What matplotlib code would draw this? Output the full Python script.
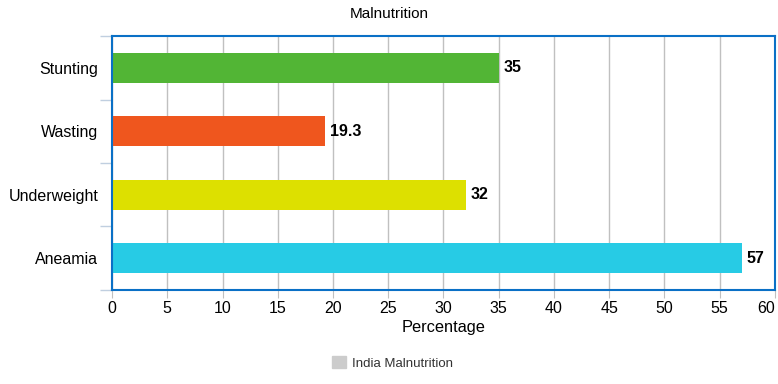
import matplotlib.pyplot as plt
from matplotlib.patches import Patch

plt.rcParams['font.family'] = ['Liberation Sans', 'DejaVu Sans']

# data
categories = ['Stunting', 'Wasting', 'Underweight', 'Aneamia']
values = [35, 19.3, 32, 57]
labels = ['35', '19.3', '32', '57']
colors = ['#52b535', '#ef561e', '#dde000', '#27cbe5']

fig = plt.figure(figsize=(7.78, 3.84), dpi=100)
ax = fig.add_axes([0.144, 0.245, 0.852, 0.661])

ypos = list(range(len(categories)))
ax.barh(ypos, values, height=0.47, color=colors, zorder=2)
ax.set_ylim(len(categories) - 0.5, -0.5)
ax.set_xlim(0, 60)

for y, v, t in zip(ypos, values, labels):
    ax.text(v + 0.45, y, t, va='center', ha='left', fontsize=11.5,
            fontweight='bold', color='black')

ax.set_yticks(ypos)
ax.set_yticklabels(categories, fontsize=11.5)
ax.tick_params(axis='y', which='major', length=0, pad=10)
ax.set_yticks([i - 0.5 for i in range(len(categories) + 1)], minor=True)
ax.tick_params(axis='y', which='minor', length=9, color='#c0cfe0', width=1)

ax.set_xticks(range(0, 61, 5))
ax.tick_params(axis='x', length=6, color='#c0c0c0', labelsize=11.5, pad=2)
ax.get_xticklabels()[-1].set_horizontalalignment('right')
ax.grid(axis='x', color='#c0c0c0', linewidth=1, zorder=0)
ax.set_axisbelow(True)

for s in ax.spines.values():
    s.set_color('#0a70c6')
    s.set_linewidth(1.5)

ax.set_xlabel('Percentage', fontsize=11.8, labelpad=3)
fig.suptitle('Malnutrition', fontsize=11, y=0.982)

fig.legend(handles=[Patch(color='#cccccc', label='India Malnutrition')],
           loc='center', bbox_to_anchor=(0.505, 0.055), frameon=False,
           fontsize=9.5, handlelength=1.0, handleheight=1.0, handletextpad=0.5,
           labelcolor='#333333')

fig.savefig('out.png', dpi=100)
